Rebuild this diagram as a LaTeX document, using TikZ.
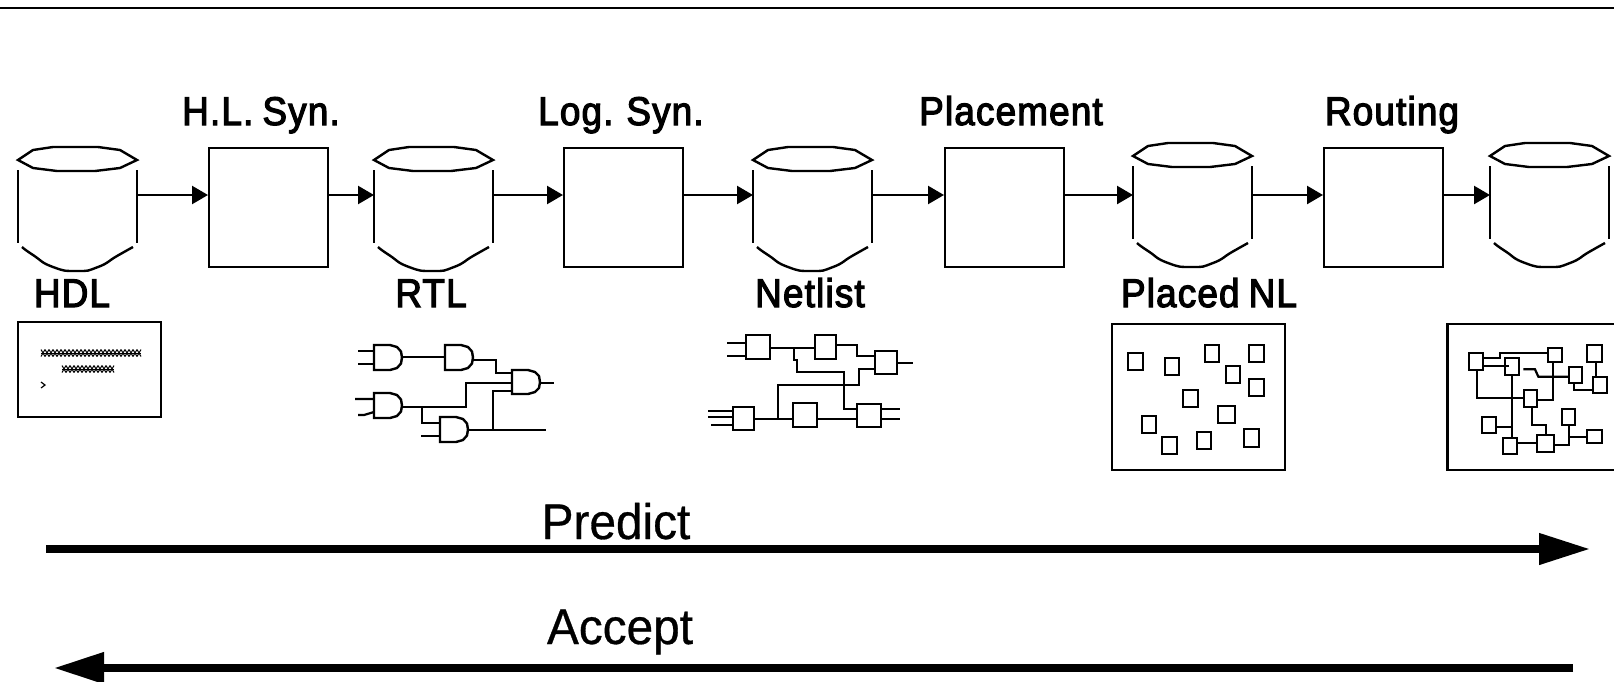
\documentclass[tikz,border=0pt]{standalone}
\usepackage{fontspec}
\setmainfont{Liberation Sans}
\newfontfamily\lblfont[FakeStretch=0.92,FakeBold=3,LetterSpace=3,WordSpace=0.8]{Liberation Sans}
\newfontfamily\bigfont[FakeStretch=0.955,FakeBold=0.6]{Liberation Sans}
\usetikzlibrary{arrows.meta}
\tikzset{
  ln/.style={line width=2.4pt,black,line join=miter},
  thin wire/.style={line width=2.2pt,black},
  procbox/.style={draw,line width=2.4pt,minimum width=119pt,minimum height=119pt,inner sep=0pt,anchor=north west},
  cylbody/.style={minimum width=119pt,minimum height=73pt,inner sep=0pt,anchor=north west},
  flow/.style={line width=2.4pt,-{Triangle[length=16pt,width=18pt]}},
  lbl/.style={inner sep=0pt,anchor=base,font=\lblfont\fontsize{40}{40}\selectfont},
  biglbl/.style={inner sep=0pt,anchor=base,font=\bigfont\fontsize{50}{50}\selectfont},
  bigarrow/.style={line width=7.5pt},
  gatebody/.style={line width=2.4pt},
  sq/.style={line width=2.3pt},
}
\newcommand{\dbcyl}[3]{%
  \node[cylbody] (#1) at (#2,170+#3) {};
  \begin{scope}[shift={(#2-18,#3)}]
    \draw[ln] (18,160)--(33,150)--(53,147)--(98,147)--(120,150)--(137,160)--(120,168)--(95,171)--(57,171)--(33,168)--cycle;
    \draw[ln] (18,170)--(18,243);
    \draw[ln] (137,170)--(137,243);
    \draw[ln] plot[smooth,tension=1] coordinates {(22,247) (33,255) (53,267) (77,271) (98,267) (117,256) (133,247)};
  \end{scope}}
\newcommand{\andgate}[3]{%
  \draw[gatebody] (#1+16,#2) -- (#1,#2) -- (#1,#3) -- (#1+16,#3) -- (#1+23,{#3-2}) -- (#1+27,{(#2+#3)/2+6}) -- (#1+28,{(#2+#3)/2}) -- (#1+27,{(#2+#3)/2-6}) -- (#1+23,{#2+2}) -- cycle;}
\begin{document}
\begin{tikzpicture}[x=1pt,y=-1pt]
\useasboundingbox (0,0) rectangle (1614,681);
\draw[line width=1.5pt] (0,8) -- (1614,8);
\coordinate (flowline) at (0,195);
% chain
\dbcyl{c1}{18}{0}
\node[procbox] (b1) at (208,147) {};
\dbcyl{c2}{374}{0}
\node[procbox] (b2) at (563,147) {};
\dbcyl{c3}{753}{0}
\node[procbox] (b3) at (944,147) {};
\dbcyl{c4}{1133}{-4}
\node[procbox] (b4) at (1323,147) {};
\dbcyl{c5}{1490}{-4}
\draw[flow] (c1.east |- flowline) -- (b1.west |- flowline);
\draw[flow] (b1.east |- flowline) -- (c2.west |- flowline);
\draw[flow] (c2.east |- flowline) -- (b2.west |- flowline);
\draw[flow] (b2.east |- flowline) -- (c3.west |- flowline);
\draw[flow] (c3.east |- flowline) -- (b3.west |- flowline);
\draw[flow] (b3.east |- flowline) -- (c4.west |- flowline);
\draw[flow] (c4.east |- flowline) -- (b4.west |- flowline);
\draw[flow] (b4.east |- flowline) -- (c5.west |- flowline);
% labels
\node[lbl] (t1) at (261,125) {H.L. Syn.};
\node[lbl] (t2) at (621,125) {Log. Syn.};
\node[lbl] (t3) at (1011,125) {Placement};
\node[lbl] (t4) at (1392,125) {Routing};
\node[lbl] (t5) at (72,307) {HDL};
\node[lbl] (t6) at (431,307) {RTL};
\node[lbl] (t7) at (810,307) {Netlist};
\node[lbl] (t8) at (1209,307) {Placed NL};
% HDL icon
\draw[ln] (18,322) rectangle (161,417);
\foreach \xx in {41,45,...,137} {
  \draw[line width=1pt] (\xx,349.5) -- (\xx+4,356.5);
  \draw[line width=1pt] (\xx+4,349.5) -- (\xx,356.5);
  \draw[line width=1pt] (\xx,353) -- (\xx+4,353);
}
\foreach \xx in {62,66,...,110} {
  \draw[line width=1pt] (\xx,365.5) -- (\xx+4,372.5);
  \draw[line width=1pt] (\xx+4,365.5) -- (\xx,372.5);
  \draw[line width=1pt] (\xx,369) -- (\xx+4,369);
}
\draw[line width=1.2pt] (41,382) -- (45,385) -- (41,388);
% RTL
\andgate{374}{345}{370}
\andgate{445}{345}{370}
\andgate{512}{370}{394}
\andgate{374}{393}{418}
\andgate{440}{417}{442}
\draw[thin wire] (358,351)--(374,351) (358,364)--(374,364);
\draw[thin wire] (402,357)--(445,357);
\draw[thin wire] (473,360)--(496,360)--(496,373)--(512,373);
\draw[thin wire] (540,383)--(554,383);
\draw[thin wire] (355,399)--(374,399) (358,415)--(364,415)--(374,412);
\draw[thin wire] (402,407)--(466,407)--(466,383)--(512,383);
\draw[thin wire] (422,407)--(422,423)--(440,423);
\draw[thin wire] (421,436)--(440,436);
\draw[thin wire] (468,430)--(546,430);
\draw[thin wire] (493,430)--(493,391)--(512,391);
% Netlist
\begin{scope}[sq]
\draw (746,335) rectangle (770,359);
\draw (815,335) rectangle (836,359);
\draw (875,351) rectangle (897,374);
\draw (733,407) rectangle (754,430);
\draw (793,403) rectangle (817,427);
\draw (857,404) rectangle (881,427);
\end{scope}
\draw[thin wire] (727,343)--(746,343) (727,356)--(746,356);
\draw[thin wire] (770,348)--(815,348);
\draw[thin wire] (836,345)--(857,345)--(857,356)--(875,356);
\draw[thin wire] (897,363)--(913,363);
\draw[thin wire] (794,348)--(794,360)--(797,360)--(797,372)--(844,372)--(844,409)--(857,409);
\draw[thin wire] (708,411)--(733,411) (708,417)--(733,417) (711,425)--(733,425);
\draw[thin wire] (754,419)--(793,419) (817,419)--(857,419);
\draw[thin wire] (778,419)--(778,385)--(859,385)--(859,369)--(875,369);
\draw[thin wire] (881,409)--(900,409) (881,419)--(900,419);
% Placed
\draw[ln] (1112,324) rectangle (1285,470);
\begin{scope}[shift={(1100,310)},x=0.33333pt,y=-0.33333pt]
\foreach \a/\b/\c/\d in {85/128/128/180,195/145/238/195,314/105/357/155,448/105/491/155,378/168/420/220,448/208/491/258,250/240/293/290,353/288/405/338,125/318/167/370,187/382/230/433,290/366/333/418,433/358/476/410}
  \draw[sq] (\a,\b) rectangle (\c,\d);
% Routed
\draw[ln] (1660,42) -- (1043,42) -- (1043,480) -- (1660,480);
\foreach \a/\b/\c/\d in {1107/128/1149/180,1216/145/1258/195,1343/113/1385/155,1462/105/1505/155,1408/170/1447/218,1478/202/1520/250,1273/241/1312/290,1385/296/1425/345,1145/320/1187/368,1210/383/1250/432,1312/376/1362/425,1462/360/1505/400}
  \draw[sq] (\a,\b) rectangle (\c,\d);
\draw[thin wire] (1149,145)--(1200,145)--(1200,128)--(1343,128);
\draw[thin wire] (1149,168)--(1228,168);
\draw[thin wire] (1270,178)--(1305,178)--(1315,200)--(1408,200);
\draw[thin wire] (1360,155)--(1360,270)--(1312,270);
\draw[thin wire] (1487,155)--(1487,202);
\draw[thin wire] (1423,218)--(1423,240)--(1478,240);
\draw[thin wire] (1130,180)--(1130,265)--(1273,265);
\draw[thin wire] (1235,195)--(1235,383);
\draw[thin wire] (1297,290)--(1297,345)--(1337,345)--(1337,376);
\draw[thin wire] (1187,350)--(1235,350);
\draw[thin wire] (1250,400)--(1312,400);
\draw[thin wire] (1362,405)--(1408,405)--(1408,345);
\draw[thin wire] (1408,380)--(1462,380);
\end{scope}
% big arrows
\coordinate (pa) at (46,549);
\coordinate (pb) at (1590,549);
\coordinate (aa) at (1573,668);
\coordinate (ab) at (54,668);
\draw[bigarrow,-{Triangle[length=51pt,width=30pt]}] (pa) -- (pb);
\draw[bigarrow,-{Triangle[length=50pt,width=30pt]}] (aa) -- (ab);
\node[biglbl] (predict) at (616,539) {Predict};
\node[biglbl] (accept) at (620,644) {Accept};
\end{tikzpicture}
\end{document}
